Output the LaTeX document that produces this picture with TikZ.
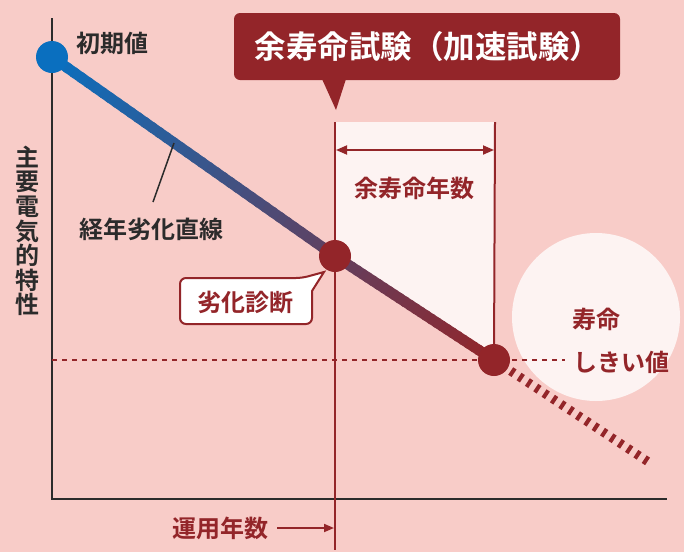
\documentclass[tikz,border=0pt]{standalone}
\usepackage{fontspec}
\setmainfont{Noto Sans CJK JP}[BoldFont={Noto Sans CJK JP Bold}]
\usetikzlibrary{arrows.meta,calc}
\definecolor{bgpink}{HTML}{F8CCC8}
\definecolor{lightfill}{HTML}{FDF3F2}
\definecolor{dred}{HTML}{932529}
\definecolor{lblue}{HTML}{0A6FBF}
\definecolor{dtext}{HTML}{2B2B2B}
\tikzset{
  dot/.style={circle, inner sep=0pt, minimum size=32pt},
  lbl/.style={inner sep=0pt, font=\bfseries\fontsize{24}{26}\selectfont},
  axisline/.style={line width=2.5pt, color=dtext},
  redline/.style={line width=2pt, color=dred},
}
\begin{document}
\begin{tikzpicture}[x=1pt,y=-1pt]
\fill[bgpink] (0,0) rectangle (684,552);
\useasboundingbox (0,0) rectangle (684,552);
% coordinates
\coordinate (bxtl) at (335,122);
\coordinate (bxtr) at (495,122);
\coordinate (xend) at (667,499);
\coordinate (ytop) at (52,18);
\coordinate (orig) at (52,499);
\coordinate (vbot) at (335,550);
\coordinate (thrL) at (52,360);
\coordinate (thrR) at (565,360);
\coordinate (dend) at (650,463);
% nodes positions
\node[dot] (init) at (52,57) {};
\node[dot] (diag) at (335,256) {};
\node[dot] (thr) at (494,360) {};
% white box
\fill[lightfill] (bxtl) -- (bxtr) -- (495,360) -- (diag.center) -- cycle;
% big circle
\node[circle, fill=lightfill, minimum size=168pt, inner sep=0pt] (life) at (596,317) {};
% axes
\draw[axisline] (ytop) -- (orig) -- (xend);
% threshold line
\draw[dred, line width=2pt, dash pattern=on 5pt off 5pt] (thrL) -- (thrR);
% vertical lines
\draw[redline] (bxtl) -- (vbot);
\draw[redline] (bxtr) -- (thr.center);
% double arrow
\draw[dred, line width=1.8pt, {Triangle[length=11pt,width=9pt]}-{Triangle[length=11pt,width=9pt]}] (336,150) coordinate (da1) -- (494,150) coordinate (da2);
% dashed continuation
\draw[dred, line width=9pt, dash pattern=on 4pt off 6pt] (thr.center) -- (dend);
% gradient line
\foreach \i in {0,...,39}{
  \pgfmathsetmacro\a{\i/40}
  \pgfmathsetmacro\b{(\i+1.4)/40}
  \pgfmathtruncatemacro\c{round(64*(\i+0.5)/40)}
  \draw[line width=10.5pt, color=dred!\c!lblue] ($(init.center)!\a!(diag.center)$) -- ($(init.center)!\b!(diag.center)$);
}
\foreach \i in {0,...,29}{
  \pgfmathsetmacro\a{\i/30}
  \pgfmathsetmacro\b{(\i+1.4)/30}
  \pgfmathtruncatemacro\c{round(64+36*(\i+0.5)/30)}
  \draw[line width=10.5pt, color=dred!\c!lblue] ($(diag.center)!\a!(thr.center)$) -- ($(diag.center)!\b!(thr.center)$);
}
% dots
\fill[lblue] (init) circle (16pt);
\fill[dred] (diag) circle (16pt);
\fill[dred] (thr) circle (16pt);
% title callout
\fill[dred, rounded corners=6pt] (234,13) rectangle (620,80);
\fill[dred] (322,79) -- (346,79) -- (336,110) -- cycle;
\node[inner sep=0pt, text=white, font=\bfseries\fontsize{31.5}{34}\selectfont] (title) at (428,47) {余寿命試験（加速試験）};
% diagnosis callout
\draw[dred, line width=2pt, fill=white, rounded corners=6pt] (180,278) -- (302,278) [sharp corners] -- (324,272) -- (312,291) [rounded corners=6pt] -- (312,324) -- (180,324) -- cycle;
\node[lbl, text=dred] (diagtxt) at (245,302) {劣化診断};
% labels
\node[lbl, text=dtext] (inittxt) at (112,43) {初期値};
\node[lbl, text=dtext] (linetxt) at (151,229) {経年劣化直線};
\coordinate (ldA) at (174,143);
\coordinate (ldB) at (153,202);
\draw[dtext, line width=1.5pt] (ldA) -- (ldB);
\node[lbl, text=dred] (remtxt) at (414,188) {余寿命年数};
\node[lbl, text=dred] (lifetxt) at (596,319) {寿命};
\node[lbl, text=dred] (thrtxt) at (621,362) {しきい値};
\node[lbl, text=dred] (yrtxt) at (220,528) {運用年数};
\coordinate (yrA) at (277,528);
\coordinate (yrB) at (334,528);
\draw[dred, line width=1.8pt, -{Triangle[length=10pt,width=8pt]}] (yrA) -- (yrB);
\node[lbl, text=dtext, align=center, font=\bfseries\fontsize{24}{24.6}\selectfont] (ylbl) at (28,231) {主\\要\\電\\気\\的\\特\\性};
\end{tikzpicture}
\end{document}
